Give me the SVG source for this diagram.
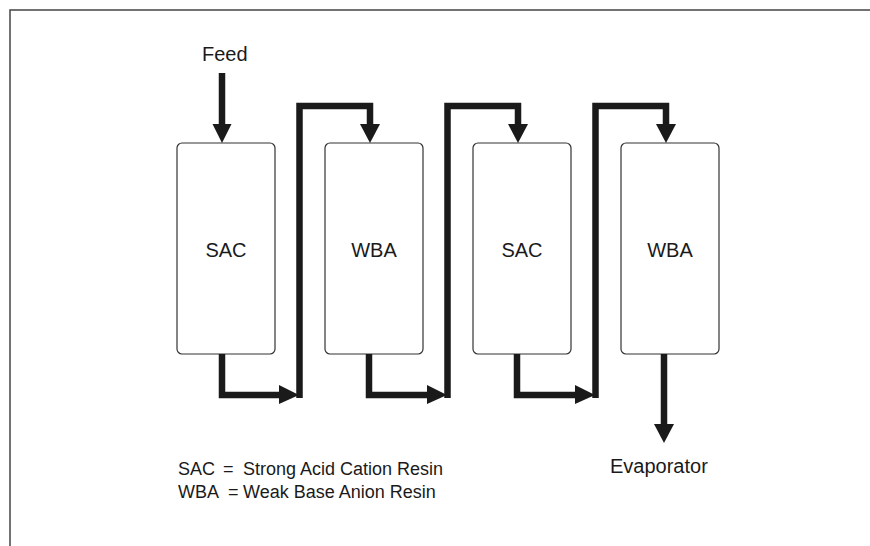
<svg xmlns="http://www.w3.org/2000/svg" width="870" height="546" viewBox="0 0 870 546">
<style>
.frame{fill:none;stroke:#444;stroke-width:1.5}
.box{fill:#fff;stroke:#333;stroke-width:1.2}
.pipe{fill:none;stroke:#1a1a1a;stroke-width:6.5;stroke-linejoin:miter;stroke-linecap:butt}
.head{fill:#1a1a1a}
.lbl{font-family:"Liberation Sans",Arial,sans-serif;font-size:20px;fill:#1a1a1a}
.leg{font-family:"Liberation Sans",Arial,sans-serif;font-size:18px;fill:#1a1a1a}
</style>
<rect width="870" height="546" fill="#fff"/>
<path class="frame" d="M10,546 V10 H870"/>
<g id="feed"><text class="lbl" x="202" y="61">Feed</text></g>
<g id="sac1"><rect class="box" x="177" y="143" width="98" height="211" rx="5"/><text class="lbl" x="226" y="257" text-anchor="middle">SAC</text></g>
<g id="wba1"><rect class="box" x="325" y="143" width="98" height="211" rx="5"/><text class="lbl" x="374" y="257" text-anchor="middle">WBA</text></g>
<g id="sac2"><rect class="box" x="473" y="143" width="98" height="211" rx="5"/><text class="lbl" x="522" y="257" text-anchor="middle">SAC</text></g>
<g id="wba2"><rect class="box" x="621" y="143" width="98" height="211" rx="5"/><text class="lbl" x="670" y="257" text-anchor="middle">WBA</text></g>
<g id="evaporator"><text class="lbl" x="610" y="473">Evaporator</text></g>
<g id="legend">
<text class="leg" y="475"><tspan x="178">SAC</tspan><tspan x="223">=</tspan><tspan x="243">Strong Acid Cation Resin</tspan></text>
<text class="leg" y="498"><tspan x="178">WBA</tspan><tspan x="228">=</tspan><tspan x="243">Weak Base Anion Resin</tspan></text>
</g>
<g id="connectors">
<path class="pipe" d="M222,73 V126"/>
<polygon class="head" points="212.5,124 231.5,124 222,143"/>
<path class="pipe" d="M222,354 V395 H282"/>
<polygon class="head" points="279,385 299,395 279,404"/>
<path class="pipe" d="M299.5,398 V106 H370 V126"/>
<polygon class="head" points="360,124 380,124 370,143"/>
<path class="pipe" d="M369,354 V395 H430"/>
<polygon class="head" points="427,385 447,395 427,404"/>
<path class="pipe" d="M447.5,398 V106 H518 V126"/>
<polygon class="head" points="508,124 528,124 518,143"/>
<path class="pipe" d="M517,354 V395 H578"/>
<polygon class="head" points="575,385 595,395 575,404"/>
<path class="pipe" d="M595.5,398 V106 H666 V126"/>
<polygon class="head" points="656,124 676,124 666,143"/>
<path class="pipe" d="M664,354 V426"/>
<polygon class="head" points="654,424 674,424 664,443"/>
</g>
</svg>
